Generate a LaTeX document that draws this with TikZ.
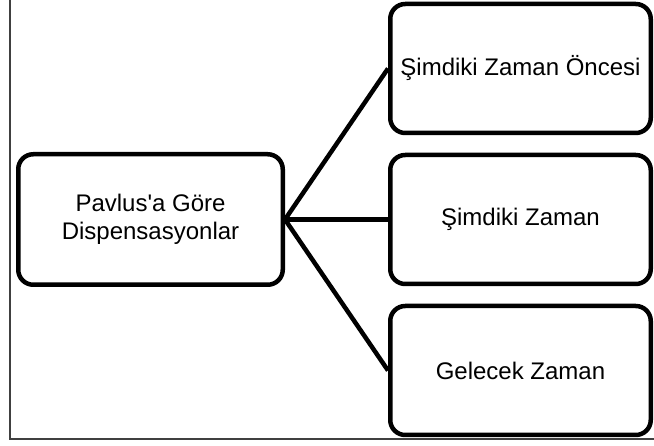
\documentclass[tikz,border=0pt]{standalone}
\usepackage{fontspec}
\setmainfont{Liberation Sans}
\usetikzlibrary{positioning}
\tikzset{
	box/.style={draw, line width=4.5pt, rounded corners=15pt, minimum width=260.5pt, minimum height=129pt, align=center, font=\fontsize{24}{28}\selectfont}, % the rounded boxes
	link/.style={line width=4.5pt}, % the joining lines
}

\begin{document}
\begin{tikzpicture}
	\useasboundingbox (0,0) rectangle (654pt,446pt);
	\draw[black!75, line width=1.3pt] (10pt,470pt) |- (680pt,7pt); % outer frame
	\node[box, minimum width=264.5pt, minimum height=130.5pt] (root) at (150.5pt,226.5pt) {Pavlus\textquotesingle a Göre\\Dispensasyonlar};
	\node[box, right=103pt of root] (now) {Şimdiki Zaman};
	\node[box, above=17.5pt of now] (before) {Şimdiki Zaman Öncesi};
	\node[box, below=17.5pt of now] (future) {Gelecek Zaman};
	
	\draw[link] (root.east) -- (before.west);
	\draw[link] (root.east) -- (now.west);
	\draw[link] (root.east) -- (future.west);
\end{tikzpicture}
\end{document}
